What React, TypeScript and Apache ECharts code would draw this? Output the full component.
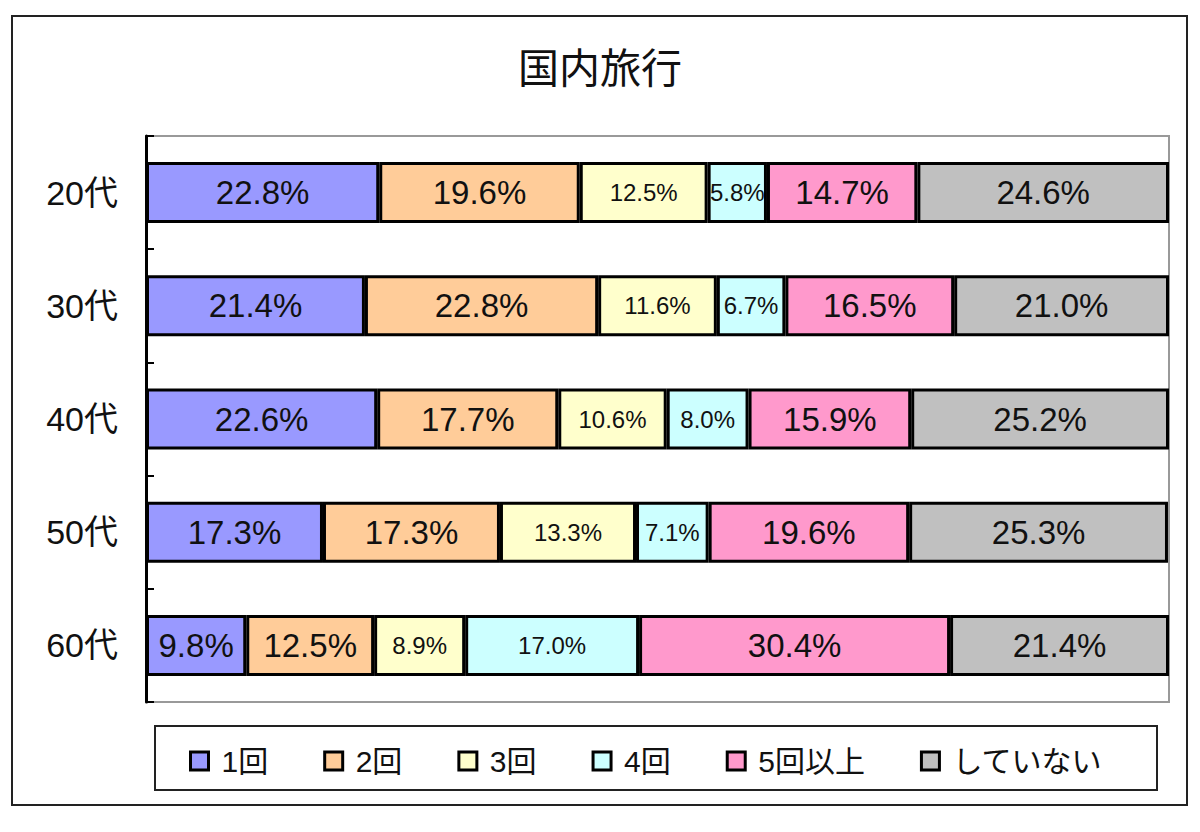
import React, { useEffect, useRef } from "react";
import * as echarts from "echarts";

const categories = ["20代", "30代", "40代", "50代", "60代"];
const seriesNames = ["1回", "2回", "3回", "4回", "5回以上", "していない"];
const once = [22.8, 21.4, 22.6, 17.3, 9.8];
const twice = [19.6, 22.8, 17.7, 17.3, 12.5];
const thrice = [12.5, 11.6, 10.6, 13.3, 8.9];
const fourTimes = [5.8, 6.7, 8.0, 7.1, 17.0];
const fivePlus = [14.7, 16.5, 15.9, 19.6, 30.4];
const none = [24.6, 21.0, 25.2, 25.3, 21.4];
const seriesValues = [once, twice, thrice, fourTimes, fivePlus, none];
const colors = ["#9999FF", "#FFCC99", "#FFFFCC", "#CCFFFF", "#FF99CC", "#C0C0C0"];
const labelSizes = [33, 33, 24, 24, 33, 33];

const FONT = "'Liberation Sans', 'Noto Sans CJK JP', sans-serif";

export default function App() {
  const ref = useRef<HTMLDivElement>(null);
  useEffect(() => {
    if (!ref.current) return;
    const chart = echarts.init(ref.current, null, { renderer: "svg" });
    chart.setOption({
      animation: false,
      backgroundColor: "#ffffff",
      textStyle: { fontFamily: FONT },
      title: {
        text: "国内旅行",
        left: "center",
        top: 43,
        textStyle: { fontFamily: FONT, fontSize: 41, fontWeight: "normal", color: "#111" },
      },
      graphic: [
        {
          type: "rect",
          shape: { x: 12, y: 16, width: 1175, height: 789 },
          style: { fill: "none", stroke: "#222", lineWidth: 2 },
          z: 0,
        },
        {
          type: "rect",
          shape: { x: 155, y: 726, width: 1002, height: 64 },
          style: { fill: "#fff", stroke: "#222", lineWidth: 2 },
          z: 0,
        },
      ],
      legend: {
        data: seriesNames,
        left: 184,
        top: 741,
        icon: "rect",
        itemWidth: 18,
        itemHeight: 18,
        itemGap: 55,
        itemStyle: { borderColor: "#000", borderWidth: 3 },
        textStyle: { fontFamily: FONT, fontSize: 30, color: "#111", padding: [0, 0, 0, 8] },
        z: 5,
      },
      grid: {
        left: 146,
        top: 136,
        width: 1023,
        height: 566,
        show: true,
        borderColor: "#999",
        borderWidth: 2,
        backgroundColor: "transparent",
      },
      xAxis: { type: "value", min: 0, max: 100, show: false },
      yAxis: {
        type: "category",
        data: categories,
        inverse: true,
        axisLine: { show: true, lineStyle: { color: "#000", width: 3 } },
        axisTick: { show: true, inside: true, length: 8, lineStyle: { color: "#000", width: 2 } },
        axisLabel: { fontFamily: FONT, fontSize: 34, color: "#111", margin: 28 },
      },
      series: seriesNames.map((name, i) => ({
        name,
        type: "bar",
        stack: "total",
        barWidth: 61,
        data: seriesValues[i],
        itemStyle: { color: colors[i], borderColor: "#000", borderWidth: 3 },
        label: {
          show: true,
          position: "inside",
          fontFamily: FONT,
          fontSize: labelSizes[i],
          color: "#111",
          formatter: (p: any) => `${Number(p.value).toFixed(1)}%`,
        },
      })),
    });
    return () => chart.dispose();
  }, []);
  return (
    <div
      ref={ref}
      style={{ position: "absolute", left: 0, top: 0, width: 1200, height: 832 }}
    />
  );
}
